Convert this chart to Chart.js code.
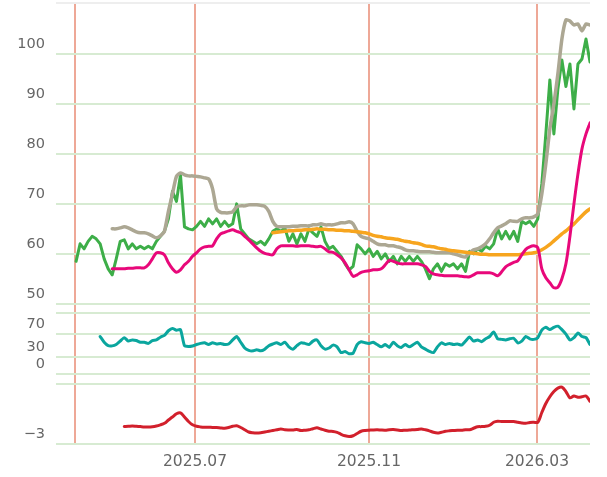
<!DOCTYPE html>
<html>
<head>
<meta charset="utf-8">
<script src="https://cdn.jsdelivr.net/npm/chart.js@4"></script>
<style>
  html, body { margin: 0; padding: 0; background: #fff; }
  #wrap { width: 607px; height: 477px; }
</style>
</head>
<body>
<div id="wrap"><canvas id="stockChart" width="607" height="477"></canvas></div>
<script>
// x is a running index, one step is about two trading days
const xMax = 133;
const monthPos = [4.73, 34.62, 77.96, 119.8];
const monthLabels = ['', '2025.07', '2025.11', '2026.03'];

const mainTicks = [50, 60, 70, 80, 90, 100];
const rsiTicks = [0, 30, 70];
const lowTicks = [-3];

// price
const priceStart = 5;
const price = [
  58.5, 62, 61, 62.5, 63.5, 63, 62, 59, 57, 55.8,
  59, 62.5, 62.8, 61, 62, 61, 61.5, 61, 61.5, 61,
  62.5, 63.5, 64.5, 67, 72.5, 70.5, 75.8, 65.4, 65, 64.8,
  65.5, 66.5, 65.5, 67, 66, 67, 65.5, 66.5, 65.5, 66,
  70, 65, 64, 63, 62.5, 62, 62.5, 61.8, 63, 64.5,
  65, 64.5, 65.2, 62.5, 64, 62, 64, 62.5, 65, 64.2,
  63.5, 65.4, 62.5, 61, 61.5, 60.5, 59.5, 58, 56.8, 57.5,
  61.8, 61, 60, 61, 59.5, 60.5, 59, 60, 58.5, 59.5,
  58, 59.5, 58.5, 59.5, 58.5, 59.5, 58.5, 57, 55, 57,
  58, 56.5, 58, 57.5, 58, 57, 58, 56.5, 60.5, 60,
  61, 60.5, 61.5, 61, 62, 65, 63, 64.5, 63, 64.5,
  62.5, 66.5, 66, 66.5, 65.5, 67, 74, 84, 94.8, 84,
  93, 98.8, 93.5, 98, 89, 98, 99, 103, 98.4
];

// upper band (grey)
const upperStart = 14;
const upper = [
  65, 65, 65.2, 65.4, 65.2, 64.8, 64.4, 64.2, 64.2, 64,
  63.6, 63.2, 63.6, 64.5, 68.5, 72, 75.5, 76.2, 75.8, 75.6,
  75.6, 75.5, 75.4, 75.2, 75, 73, 69, 68.3, 68.2, 68.2,
  68.4, 69.4, 69.6, 69.6, 69.8, 69.8, 69.8, 69.7, 69.5, 68.5,
  66.5, 65.5, 65.4, 65.4, 65.4, 65.5, 65.5, 65.6, 65.6, 65.6,
  65.8, 65.8, 66, 65.8, 65.8, 65.8, 66, 66.2, 66.2, 66.4,
  66, 64.5, 63.5, 63.2, 63, 62.5, 62, 61.8, 61.8, 61.6,
  61.6, 61.4, 61.2, 60.8, 60.6, 60.6, 60.5, 60.4, 60.4, 60.4,
  60.3, 60.2, 60.2, 60.2, 60.2, 60, 59.8, 59.5, 59.4, 60.2,
  60.8, 61, 61.4, 62, 63, 64.2, 65.2, 65.6, 66, 66.6,
  66.5, 66.5, 67, 67.2, 67.2, 67.4, 68, 72, 78, 85,
  90, 96, 103, 106.8, 106.6, 105.8, 106, 104.6, 106, 105.8
];

// short average (pink)
const shortStart = 14;
const shortAvg = [
  57, 57, 57, 57, 57.1, 57.1, 57.2, 57.2, 57.2, 57.8,
  59, 60.2, 60.2, 59.8, 58.2, 57, 56.3, 56.8, 57.8, 58.5,
  59.5, 60.2, 61, 61.4, 61.5, 61.6, 63, 64, 64.3, 64.6,
  64.8, 64.5, 64.2, 63.5, 62.8, 62, 61.2, 60.5, 60.1, 59.9,
  59.8, 61, 61.6, 61.6, 61.6, 61.6, 61.5, 61.6, 61.6, 61.6,
  61.5, 61.4, 61.5, 61, 60.4, 60.3, 59.8, 59.2, 58.2, 56.8,
  55.5, 55.8, 56.3, 56.5, 56.6, 56.8, 56.8, 57, 57.8, 58.7,
  58.5, 58.2, 58, 58, 58, 58, 58, 57.8, 57.5, 56.5,
  56, 55.8, 55.7, 55.6, 55.6, 55.6, 55.6, 55.5, 55.4, 55.4,
  55.8, 56.2, 56.2, 56.2, 56.2, 56, 55.6, 56.4, 57.4, 57.9,
  58.3, 58.6, 59.8, 60.9, 61.4, 61.6, 61.2, 57, 55.2, 54.2,
  53.2, 53.3, 55, 58, 63.5, 70, 76, 81, 84, 86.2
];

// long average (orange)
const longStart = 54;
const longAvg = [
  64.2, 64.3, 64.4, 64.5, 64.6, 64.6, 64.7, 64.7, 64.8, 64.8,
  64.9, 65, 64.9, 64.9, 64.8, 64.8, 64.7, 64.7, 64.6, 64.6,
  64.5, 64.4, 64.3, 64.2, 64, 63.7, 63.5, 63.4, 63.2, 63.1,
  63, 62.9, 62.7, 62.5, 62.4, 62.2, 62.1, 61.9, 61.6, 61.5,
  61.4, 61.2, 61, 60.9, 60.7, 60.6, 60.5, 60.4, 60.3, 60.2,
  60.1, 60, 59.9, 59.9, 59.8, 59.8, 59.8, 59.8, 59.8, 59.8,
  59.8, 59.8, 59.9, 60, 60.1, 60.2, 60.4, 60.8, 61.3, 61.9,
  62.6, 63.3, 64, 64.6, 65.3, 66, 66.8, 67.6, 68.4, 69
];

// RSI
const rsiStart = 11;
const rsi = [
  65.9, 56, 50, 49.7, 52, 58, 64, 58, 60, 59,
  56, 56, 54, 59, 60, 64.8, 68, 76, 80, 77,
  78, 50, 48.6, 49.5, 52, 54, 55, 52, 55, 53,
  54, 52, 53, 60, 66, 56, 46, 42, 41, 43,
  41, 44, 50, 53, 55, 52, 56, 48, 44, 50,
  55, 54, 52, 58, 60, 50, 44, 46, 51, 48,
  38, 40, 36, 37, 52, 57, 55, 54, 56, 52,
  48, 52, 47, 56, 50, 47, 52, 48, 52, 56,
  48, 44, 40, 38, 48, 55, 52, 54, 52, 53,
  51, 58, 65, 58, 60, 57, 62, 66, 74, 62,
  61, 60, 62, 63, 55, 58, 66, 62, 61, 64,
  77, 82, 78, 82, 84, 78, 70, 60, 64, 72,
  66, 64, 52
];

// lower indicator (red)
const lowStart = 17;
const low = [
  -1.83, -1.82, -1.8, -1.82, -1.84, -1.86, -1.87, -1.85, -1.8, -1.72,
  -1.62, -1.4, -1.2, -0.98, -0.92, -1.2, -1.5, -1.72, -1.82, -1.86,
  -1.88, -1.88, -1.9, -1.9, -1.93, -1.95, -1.9, -1.82, -1.78, -1.9,
  -2.05, -2.2, -2.25, -2.27, -2.25, -2.2, -2.15, -2.1, -2.05, -2.0,
  -2.05, -2.06, -2.06, -2.03, -2.1, -2.08, -2.05, -1.98, -1.92, -2.0,
  -2.08, -2.15, -2.16, -2.22, -2.35, -2.45, -2.5, -2.45, -2.3, -2.15,
  -2.1, -2.08, -2.06, -2.05, -2.07, -2.08, -2.05, -2.04, -2.06, -2.1,
  -2.08, -2.07, -2.05, -2.03, -2.0, -2.05, -2.12, -2.22, -2.27, -2.22,
  -2.15, -2.12, -2.1, -2.08, -2.08, -2.05, -2.05, -1.95, -1.85, -1.84,
  -1.82, -1.75, -1.55, -1.48, -1.5, -1.5, -1.5, -1.5, -1.55, -1.6,
  -1.62, -1.56, -1.55, -1.55, -0.9, -0.3, 0.15, 0.5, 0.73, 0.8,
  0.5, 0.08, 0.2, 0.12, 0.15, 0.2, -0.15
];

function pts(start, arr) {
  return arr.map((v, k) => ({ x: start + k, y: v }));
}

const gridGreen = '#d7ebd2';
const labelFont = { family: 'DejaVu Sans', size: 14.5 };

// fixed axis sizes, no extra room for half labels
function fitY(s) {
  s.width = 56;
  s.paddingTop = 0; s.paddingBottom = 0; s.paddingLeft = 0; s.paddingRight = 0;
}
function fitX(s) {
  s.height = 33;
  s.paddingTop = 0; s.paddingBottom = 0; s.paddingLeft = 0; s.paddingRight = 0;
}

function paneAxis(weight, min, max, ticks, topColor) {
  return {
    type: 'linear', position: 'left', stack: 'panes', stackWeight: weight,
    min: min, max: max,
    afterFit: fitY,
    afterBuildTicks: s => { s.ticks = ticks.concat([max]).map(v => ({ value: v })); },
    border: { display: false },
    grid: {
      drawTicks: false, lineWidth: 2,
      color: c => (c.tick && c.tick.value === max) ? topColor : gridGreen
    },
    ticks: {
      color: '#666', font: labelFont, padding: 11, labelOffset: -10, autoSkip: false,
      callback: v => v === max ? '' : String(v).replace('-', '\u2212')
    }
  };
}

function gapAxis(weight) {
  return {
    type: 'linear', position: 'left', stack: 'panes', stackWeight: weight,
    afterFit: fitY,
    border: { display: false },
    grid: { display: false },
    ticks: { display: false }
  };
}

new Chart(document.getElementById('stockChart'), {
  type: 'line',
  data: {
    datasets: [
      { data: pts(shortStart, shortAvg), borderColor: '#e8087a', borderWidth: 3, tension: 0.3, yAxisID: 'yMain', order: 1 },
      { data: pts(longStart, longAvg), borderColor: '#f7a51e', borderWidth: 3.5, tension: 0.3, yAxisID: 'yMain', order: 2 },
      { data: pts(upperStart, upper), borderColor: '#aca793', borderWidth: 3.5, tension: 0.2, yAxisID: 'yMain', order: 3 },
      { data: pts(priceStart, price), borderColor: '#3dae48', borderWidth: 3, tension: 0, yAxisID: 'yMain', order: 4 },
      { data: pts(rsiStart, rsi), borderColor: '#0aa69e', borderWidth: 3, tension: 0.2, yAxisID: 'yRsi', order: 5 },
      { data: pts(lowStart, low), borderColor: '#d2202c', borderWidth: 3, tension: 0.3, yAxisID: 'yLow', order: 6 }
    ]
  },
  options: {
    responsive: false,
    animation: false,
    layout: { padding: { top: 3, right: 17, left: 0, bottom: 0 } },
    elements: { point: { radius: 0 }, line: { borderCapStyle: 'round', borderJoinStyle: 'round' } },
    plugins: { legend: { display: false }, tooltip: { enabled: false } },
    scales: {
      x: {
        type: 'linear', min: 0, max: xMax,
        afterBuildTicks: s => { s.ticks = monthPos.map(v => ({ value: v })); },
        afterFit: fitX,
        border: { display: false },
        grid: { color: '#eea897', lineWidth: 2, drawTicks: false },
        ticks: {
          color: '#666', font: { family: 'DejaVu Sans', size: 15.5 }, padding: 9,
          maxRotation: 0, autoSkip: false,
          callback: (v, i) => monthLabels[i]
        }
      },
      yLow: paneAxis(60, -3, 1, lowTicks, gridGreen),
      gap2: gapAxis(9.6),
      yRsi: paneAxis(61, 0, 106, rsiTicks, gridGreen),
      gap1: gapAxis(9.7),
      yMain: paneAxis(301, 50, 110.2, mainTicks, '#eeeeee')
    }
  }
});
</script>
</body>
</html>
